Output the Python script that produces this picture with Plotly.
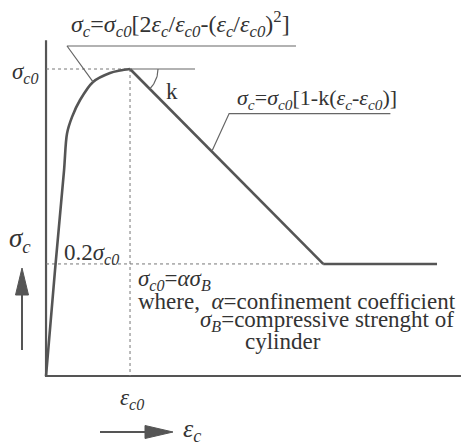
import numpy as np
import plotly.graph_objects as go

# Normalised stress-strain envelope: strain as eps_c/eps_c0, stress as sigma_c/sigma_c0
eps_rise = [0.0, 0.107, 0.214, 0.25, 0.31, 0.405, 0.56, 0.762, 0.88, 1.0]
sig_rise = [0.0, 0.345, 0.668, 0.79, 0.844, 0.899, 0.958, 0.987, 0.995, 1.0]
eps_soft = [1.0, 3.30]
sig_soft = [1.0, 0.365]
eps_resid = [3.30, 4.655]
sig_resid = [0.365, 0.365]

eps_peak, sig_peak = 1.0, 1.0
sig_res = 0.365
x_end, y_end = 4.94, 1.094

W, H = 467, 446
X_RANGE = [-0.548, 5.012]
Y_RANGE = [-0.228, 1.2248]

LINE = "#555555"
TEXT = "#333333"
SERIF = "Liberation Serif"


def px(x):
    return x / W


def py(y):
    return 1 - y / H


fig = go.Figure()

# axes
fig.add_trace(go.Scatter(x=[0, 0, x_end], y=[y_end, 0, 0], mode="lines",
                         line=dict(color=LINE, width=2.2), hoverinfo="skip"))

# reference dashed lines
dash = dict(color="#777777", width=1, dash="3px,3px")
fig.add_trace(go.Scatter(x=[0, eps_peak], y=[sig_peak, sig_peak], mode="lines",
                         line=dash, hoverinfo="skip"))
fig.add_trace(go.Scatter(x=[eps_peak, eps_peak], y=[sig_peak, 0], mode="lines",
                         line=dash, hoverinfo="skip"))
fig.add_trace(go.Scatter(x=[0, eps_soft[1]], y=[sig_res, sig_res], mode="lines",
                         line=dash, hoverinfo="skip"))

# envelope
fig.add_trace(go.Scatter(x=eps_rise, y=sig_rise, mode="lines",
                         line=dict(color=LINE, width=2.6, shape="spline", smoothing=0.9),
                         hoverinfo="skip"))
fig.add_trace(go.Scatter(x=eps_soft, y=sig_soft, mode="lines",
                         line=dict(color=LINE, width=2.6), hoverinfo="skip"))
fig.add_trace(go.Scatter(x=eps_resid, y=sig_resid, mode="lines",
                         line=dict(color=LINE, width=2.6), hoverinfo="skip"))

# slope marker at the peak: horizontal reference and arc
thin = dict(color="#666666", width=1.2)
fig.add_trace(go.Scatter(x=[eps_peak, 1.774], y=[sig_peak, sig_peak], mode="lines",
                         line=thin, hoverinfo="skip"))
t = np.linspace(0, -np.pi / 4, 20)
rx = 28 / 84.0
ry = 28 / 307.0
fig.add_trace(go.Scatter(x=eps_peak + rx * np.cos(t), y=sig_peak + ry * np.sin(t), mode="lines",
                         line=thin, hoverinfo="skip"))

# leader lines for the formulas
fig.add_trace(go.Scatter(x=[2.976, 0.25, 0.56], y=[1.075, 1.075, 0.958], mode="lines",
                         line=thin, hoverinfo="skip"))
fig.add_trace(go.Scatter(x=[1.98, 2.18, 4.10], y=[0.735, 0.855, 0.855], mode="lines",
                         line=thin, hoverinfo="skip"))

shapes = []
# arrow for sigma_c (upward)
shapes.append(dict(type="line", xref="paper", yref="paper",
                   x0=px(22), y0=py(350), x1=px(22), y1=py(293),
                   line=dict(color=LINE, width=2)))
shapes.append(dict(type="path", xref="paper", yref="paper",
                   path=f"M {px(15.5)},{py(295)} L {px(22)},{py(268)} L {px(28.5)},{py(295)} Z",
                   fillcolor=LINE, line=dict(color=LINE, width=1)))
# arrow for eps_c (rightward)
shapes.append(dict(type="line", xref="paper", yref="paper",
                   x0=px(100), y0=py(432), x1=px(147), y1=py(432),
                   line=dict(color=LINE, width=2)))
shapes.append(dict(type="path", xref="paper", yref="paper",
                   path=f"M {px(145)},{py(425.5)} L {px(173)},{py(432)} L {px(145)},{py(438.5)} Z",
                   fillcolor=LINE, line=dict(color=LINE, width=1)))

ann = []


def label(x, y, text, size, xanchor="center"):
    ann.append(dict(x=px(x), y=py(y), xref="paper", yref="paper", text=text,
                    showarrow=False, xanchor=xanchor, yanchor="middle",
                    font=dict(family=SERIF, size=size, color=TEXT)))


s = "<i>σ</i>"
e = "<i>ε</i>"
label(69, 24, f"{s}<sub><i>c</i></sub>={s}<sub><i>c0</i></sub>[2{e}<sub><i>c</i></sub>/{e}<sub><i>c0</i></sub>-({e}<sub><i>c</i></sub>/{e}<sub><i>c0</i></sub>)<sup>2</sup>]", 24, "left")
label(235, 99, f"{s}<sub><i>c</i></sub>={s}<sub><i>c0</i></sub>[1-k({e}<sub><i>c</i></sub>-{e}<sub><i>c0</i></sub>)]", 22, "left")
label(25, 73, f"{s}<sub><i>c0</i></sub>", 23)
label(172, 91, "k", 23)
label(20, 240, f"{s}<sub><i>c</i></sub>", 27)
label(62, 254, f"0.2{s}<sub><i>c0</i></sub>", 23, "left")
label(136, 280, f"{s}<sub><i>c0</i></sub>=<i>α</i>{s}<sub><i>B</i></sub>", 23, "left")
label(136, 301, "where,  <i>α</i>=confinement coefficient", 23, "left")
label(198, 321, f"{s}<sub><i>B</i></sub>=compressive strenght of", 23, "left")
label(243, 341, "cylinder", 23, "left")
label(132, 399, f"{e}<sub><i>c0</i></sub>", 23)
label(192, 430, f"{e}<sub><i>c</i></sub>", 26)

fig.update_layout(
    width=W, height=H,
    margin=dict(l=0, r=0, t=0, b=0),
    paper_bgcolor="white", plot_bgcolor="white",
    showlegend=False,
    xaxis=dict(range=X_RANGE, visible=False, fixedrange=True),
    yaxis=dict(range=Y_RANGE, visible=False, fixedrange=True),
    shapes=shapes,
    annotations=ann,
)

fig.write_html("out.html")
